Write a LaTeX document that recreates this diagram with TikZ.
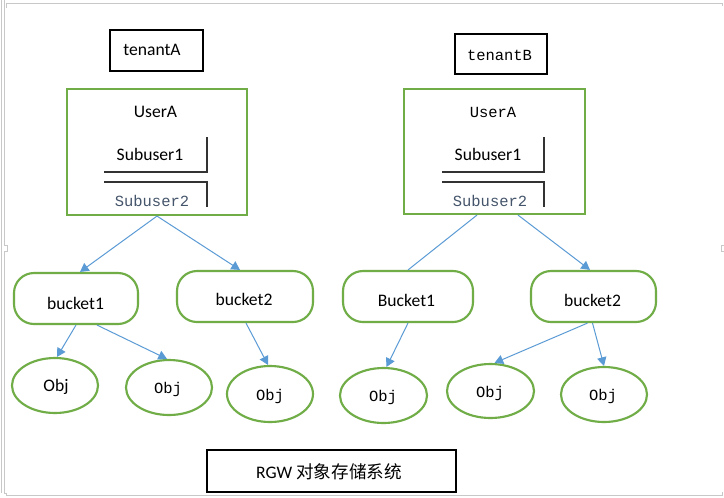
\documentclass[tikz,border=0pt]{standalone}
\usepackage{fontspec}
\setmainfont{Carlito}
\newfontfamily\monof{Liberation Mono}
\newfontfamily\cjkf{Noto Sans CJK SC}
\usetikzlibrary{arrows.meta,shapes.geometric,calc}
\definecolor{wgreen}{HTML}{70AD47}
\definecolor{wblue}{HTML}{5B9BD5}
\definecolor{wtext}{HTML}{44546A}
\definecolor{wframe}{HTML}{C8C8C8}
\begin{document}
\begin{tikzpicture}[x=0.75pt,y=-0.75pt,
  plainbox/.style={draw=black,line width=0.8pt,inner sep=0pt},
  userbox/.style={draw=wgreen,line width=1.6pt,inner sep=0pt},
  bucketbox/.style={draw=wgreen,line width=1.6pt,rounded corners=15pt,inner sep=0pt,minimum height=38.25pt},
  objell/.style={ellipse,draw=wgreen,line width=1.6pt,inner sep=0pt},
  cal/.style={font=\fontsize{13.2pt}{15pt}\selectfont,inner sep=0pt},
  mono/.style={font=\monof\fontsize{11.6pt}{13pt}\selectfont,inner sep=0pt},
  link/.style={draw=wblue,line width=0.75pt,-{Triangle[length=6.5pt,width=7pt]}},
  plainlink/.style={draw=wblue,line width=0.75pt},
  subline/.style={draw=black!80,line width=0.8pt},
  frameline/.style={draw=wframe,line width=0.75pt}]
\useasboundingbox (0,0) rectangle (724,497);
\fill[white] (0,0) rectangle (724,497);

% faint page frame
\draw[frameline] (1.5,0) -- (1.5,493);
\draw[frameline] (4.5,0) -- (4.5,245) -- (7,245) -- (7,251) -- (4.5,251) -- (4.5,493) -- (6,493) -- (6,495) -- (722,495) -- (722,492);
\draw[frameline] (6,8) -- (6,3) -- (722,3) -- (722,6);
\draw[frameline] (724,245) -- (721,245) -- (721,251) -- (724,251);

% tenant boxes
\node[plainbox,minimum width=69.75pt,minimum height=30.75pt] (tA) at (156.5,50.5) {};
\node[cal] (tAt) at (152,50) {tenantA};
\node[plainbox,minimum width=69pt,minimum height=30pt] (tB) at (501,54) {};
\node[mono] (tBt) at (499.5,55) {tenantB};

% user boxes
\node[userbox,minimum width=135pt,minimum height=94.5pt] (uA) at (157,152) {};
\node[cal] (uAt) at (155.5,112) {UserA};
\node[cal] (sA1) at (150,154) {Subuser1};
\node[mono,text=wtext] (sA2) at (152,201) {Subuser2};
\draw[subline] (207,137) -- (207,172) -- (104,172);
\draw[subline] (104,182) -- (207,182) -- (207,207);

\node[userbox,minimum width=135.75pt,minimum height=93.75pt] (uB) at (494.5,151.5) {};
\node[mono] (uBt) at (493,112) {UserA};
\node[cal] (sB1) at (488,154) {Subuser1};
\node[mono,text=wtext] (sB2) at (490,201) {Subuser2};
\draw[subline] (544,137) -- (544,172) -- (442,172);
\draw[subline] (442,182) -- (544,182) -- (544,207);

% buckets
\node[bucketbox,minimum width=93pt] (b1) at (76,298.5) {};
\node[cal] (b1t) at (75.5,303) {bucket1};
\node[bucketbox,minimum width=102pt] (b2) at (245,296.5) {};
\node[cal] (b2t) at (244,299) {bucket2};
\node[bucketbox,minimum width=97.5pt] (b3) at (408,296.5) {};
\node[cal] (b3t) at (406.5,300) {Bucket1};
\node[bucketbox,minimum width=93.75pt] (b4) at (593.5,296.5) {};
\node[cal] (b4t) at (592.5,300) {bucket2};

% objects
\node[objell,minimum width=64.5pt,minimum height=41.25pt] (o1) at (55,385.5) {};
\node[cal] (o1t) at (56,387) {Obj};
\node[objell,minimum width=64.5pt,minimum height=41.25pt] (o2) at (169,387.5) {};
\node[mono] (o2t) at (168,389) {Obj};
\node[objell,minimum width=64.5pt,minimum height=42pt] (o3) at (270,394) {};
\node[mono] (o3t) at (270,396) {Obj};
\node[objell,minimum width=65.25pt,minimum height=41.25pt] (o4) at (383.5,395.5) {};
\node[mono] (o4t) at (383,397) {Obj};
\node[objell,minimum width=65.25pt,minimum height=40.5pt] (o5) at (490.5,391) {};
\node[mono] (o5t) at (490,393) {Obj};
\node[objell,minimum width=64.5pt,minimum height=41.25pt] (o6) at (604,394.5) {};
\node[mono] (o6t) at (603,396) {Obj};

% RGW box
\node[plainbox,minimum width=186.75pt,minimum height=31.5pt] (rgw) at (331.5,471) {};
\node[cal] (rgwt) at (329,472) {RGW {\cjkf 对象存储系统}};

% connectors
\draw[link] (uA.south) -- ($(b1.north)+(4,0)$);
\draw[link] (uA.south) -- ($(b2.north)+(-5,0)$);
\draw[plainlink] ($(uB.south)+(-17.5,0)$) -- (b3.north);
\draw[link] ($(uB.south)+(23.5,0)$) -- ($(b4.north)+(-3.5,0)$);
\draw[link] (b1.south) -- ($(o1.north)+(2,0)$);
\draw[link] ($(b1.south)+(21,0)$) -- ($(o2.north)+(-2,0)$);
\draw[link] ($(b2.south)+(1,0)$) -- ($(o3.north)+(-2,0)$);
\draw[link] (b3.south) -- ($(o4.north)+(3,0)$);
\draw[link] ($(b4.south)+(-6,0)$) -- ($(o5.north)+(4,0)$);
\draw[link] ($(b4.south)+(-1,0)$) -- (o6.north);
\end{tikzpicture}
\end{document}
